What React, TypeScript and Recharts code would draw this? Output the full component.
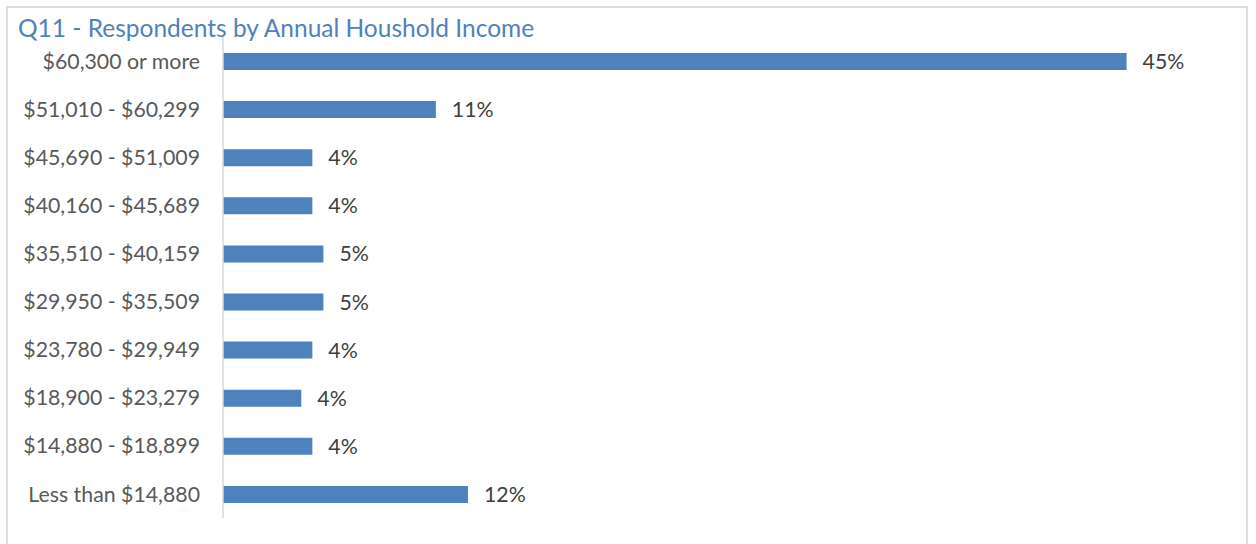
import React from 'react';
import { BarChart, Bar, XAxis, YAxis, LabelList } from 'recharts';

const categories = [
  '$60,300 or more',
  '$51,010 - $60,299',
  '$45,690 - $51,009',
  '$40,160 - $45,689',
  '$35,510 - $40,159',
  '$29,950 - $35,509',
  '$23,780 - $29,949',
  '$18,900 - $23,279',
  '$14,880 - $18,899',
  'Less than $14,880',
];
const shares = [45, 10.6, 4.45, 4.45, 5.0, 5.0, 4.45, 3.9, 4.45, 12.2];
const valueLabels = ['45%', '11%', '4%', '4%', '5%', '5%', '4%', '4%', '4%', '12%'];
const title = 'Q11 - Respondents by Annual Houshold Income';

const data = categories.map((c, i) => ({ name: c, value: shares[i], label: valueLabels[i] }));

const FONT = 'Lato, "Open Sans", sans-serif';

export default function App() {
  return (
    <div style={{ position: 'absolute', left: 0, top: 0, width: 1256, height: 544, overflow: 'hidden', background: '#fff' }}>
      <div style={{ position: 'absolute', left: 6, top: 6, width: 1242, height: 560, border: '2px solid #dcdcdc', boxSizing: 'border-box' }} />
      <div style={{ position: 'absolute', left: 18, top: 15, fontFamily: FONT, fontSize: 24.5, lineHeight: '26px', color: '#4f81bd', whiteSpace: 'nowrap' }}>
        {title}
      </div>
      <div style={{ position: 'absolute', left: 0, top: 0 }}>
        <BarChart
          width={1256}
          height={544}
          layout="vertical"
          data={data}
          margin={{ top: 37, bottom: 26, left: 0, right: 29 }}
          barSize={17}
        >
          <XAxis type="number" domain={[0, 50]} hide />
          <YAxis
            type="category"
            dataKey="name"
            width={223}
            axisLine={{ stroke: '#d9d9d9', strokeWidth: 1.5 }}
            tickLine={false}
            tickMargin={17}
            tick={{ fill: '#595959', fontSize: 21.3, fontFamily: FONT }}
            interval={0}
          />
          <Bar dataKey="value" fill="#4f81bd" isAnimationActive={false}>
            <LabelList dataKey="label" position="right" offset={16} fill="#404040" fontSize={21.3} fontFamily={FONT} />
          </Bar>
        </BarChart>
      </div>
    </div>
  );
}
